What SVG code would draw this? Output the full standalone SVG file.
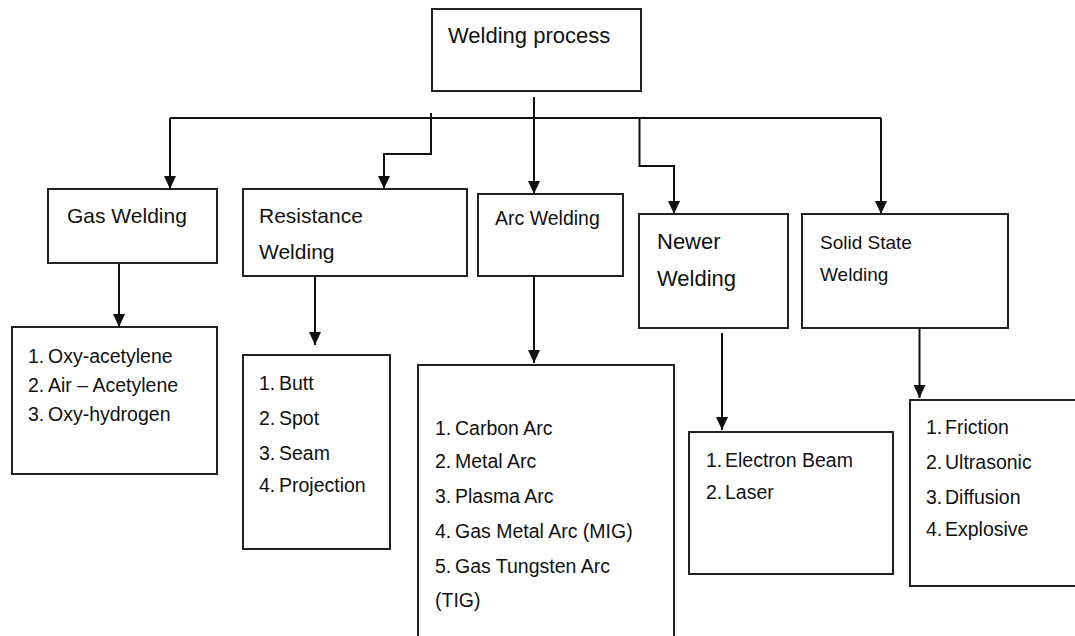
<svg xmlns="http://www.w3.org/2000/svg" width="1075" height="636" viewBox="0 0 1075 636">
<style>
.box{fill:#fff;stroke:#222;stroke-width:2}
.ln{fill:none;stroke:#111;stroke-width:2}
.t{font-family:"Liberation Sans",Arial,sans-serif;fill:#111}
.h{font-size:21px}
.l{font-size:19.5px}
</style>
<defs>
<marker id="ah" markerUnits="userSpaceOnUse" viewBox="0 0 13 12" markerWidth="13" markerHeight="12" refX="13" refY="6" orient="auto">
<path d="M0,0 L13,6 L0,12 z" fill="#111"/>
</marker>
</defs>
<rect width="1075" height="636" fill="#fff"/>
<g id="connectors">
<path class="ln" d="M534,97 V194" marker-end="url(#ah)"/>
<path class="ln" d="M170,118 H881"/>
<path class="ln" d="M170,118 V189" marker-end="url(#ah)"/>
<path class="ln" d="M881,118 V214" marker-end="url(#ah)"/>
<path class="ln" d="M431,113 V154 H384 V189" marker-end="url(#ah)"/>
<path class="ln" d="M639.5,118 V166 H674 V214" marker-end="url(#ah)"/>
<path class="ln" d="M119,263 V327" marker-end="url(#ah)"/>
<path class="ln" d="M315,276 V345" marker-end="url(#ah)"/>
<path class="ln" d="M534,276 V363" marker-end="url(#ah)"/>
<path class="ln" d="M722,333 V430" marker-end="url(#ah)"/>
<path class="ln" d="M919.5,328 V398" marker-end="url(#ah)"/>
</g>
<g id="root">
<rect class="box" x="432" y="9" width="209" height="82"/>
<text class="t" x="448" y="43" font-size="22">Welding process</text>
</g>
<g id="gas">
<rect class="box" x="48" y="189" width="169" height="74"/>
<text class="t h" x="67" y="223">Gas Welding</text>
</g>
<g id="resistance">
<rect class="box" x="243" y="189" width="224" height="87"/>
<text class="t h" x="259" y="223">Resistance</text>
<text class="t h" x="259" y="259">Welding</text>
</g>
<g id="arc">
<rect class="box" x="478" y="194" width="145" height="82"/>
<text class="t" x="495" y="225" font-size="19.5">Arc Welding</text>
</g>
<g id="newer">
<rect class="box" x="639" y="214" width="149" height="114"/>
<text class="t" x="657" y="249" font-size="22">Newer</text>
<text class="t" x="657" y="286" font-size="22">Welding</text>
</g>
<g id="solid">
<rect class="box" x="802" y="214" width="206" height="114"/>
<text class="t" x="820" y="249" font-size="19">Solid State</text>
<text class="t" x="820" y="281" font-size="19">Welding</text>
</g>
<g id="gas-list">
<rect class="box" x="12" y="327" width="205" height="147"/>
<text class="t l" x="28" y="363">1.</text><text class="t l" x="48" y="363">Oxy-acetylene</text>
<text class="t l" x="28" y="392">2.</text><text class="t l" x="48" y="392">Air – Acetylene</text>
<text class="t l" x="28" y="421">3.</text><text class="t l" x="48" y="421">Oxy-hydrogen</text>
</g>
<g id="resistance-list">
<rect class="box" x="243" y="355" width="147" height="194"/>
<text class="t l" x="259" y="390">1.</text><text class="t l" x="279" y="390">Butt</text>
<text class="t l" x="259" y="425">2.</text><text class="t l" x="279" y="425">Spot</text>
<text class="t l" x="259" y="460">3.</text><text class="t l" x="279" y="460">Seam</text>
<text class="t l" x="259" y="492">4.</text><text class="t l" x="279" y="492">Projection</text>
</g>
<g id="arc-list">
<rect class="box" x="418" y="365" width="256" height="280"/>
<text class="t l" x="435" y="435">1.</text><text class="t l" x="455" y="435">Carbon Arc</text>
<text class="t l" x="435" y="468">2.</text><text class="t l" x="455" y="468">Metal Arc</text>
<text class="t l" x="435" y="503">3.</text><text class="t l" x="455" y="503">Plasma Arc</text>
<text class="t l" x="435" y="538">4.</text><text class="t l" x="455" y="538">Gas Metal Arc (MIG)</text>
<text class="t l" x="435" y="573">5.</text><text class="t l" x="455" y="573">Gas Tungsten Arc</text>
<text class="t l" x="435" y="607">(TIG)</text>
</g>
<g id="newer-list">
<rect class="box" x="689" y="432" width="204" height="142"/>
<text class="t l" x="706" y="467">1.</text><text class="t l" x="725" y="467">Electron Beam</text>
<text class="t l" x="706" y="499">2.</text><text class="t l" x="725" y="499">Laser</text>
</g>
<g id="solid-list">
<rect class="box" x="910" y="400" width="175" height="186"/>
<text class="t l" x="926" y="434">1.</text><text class="t l" x="945" y="434">Friction</text>
<text class="t l" x="926" y="469">2.</text><text class="t l" x="945" y="469">Ultrasonic</text>
<text class="t l" x="926" y="504">3.</text><text class="t l" x="945" y="504">Diffusion</text>
<text class="t l" x="926" y="536">4.</text><text class="t l" x="945" y="536">Explosive</text>
</g>
</svg>
